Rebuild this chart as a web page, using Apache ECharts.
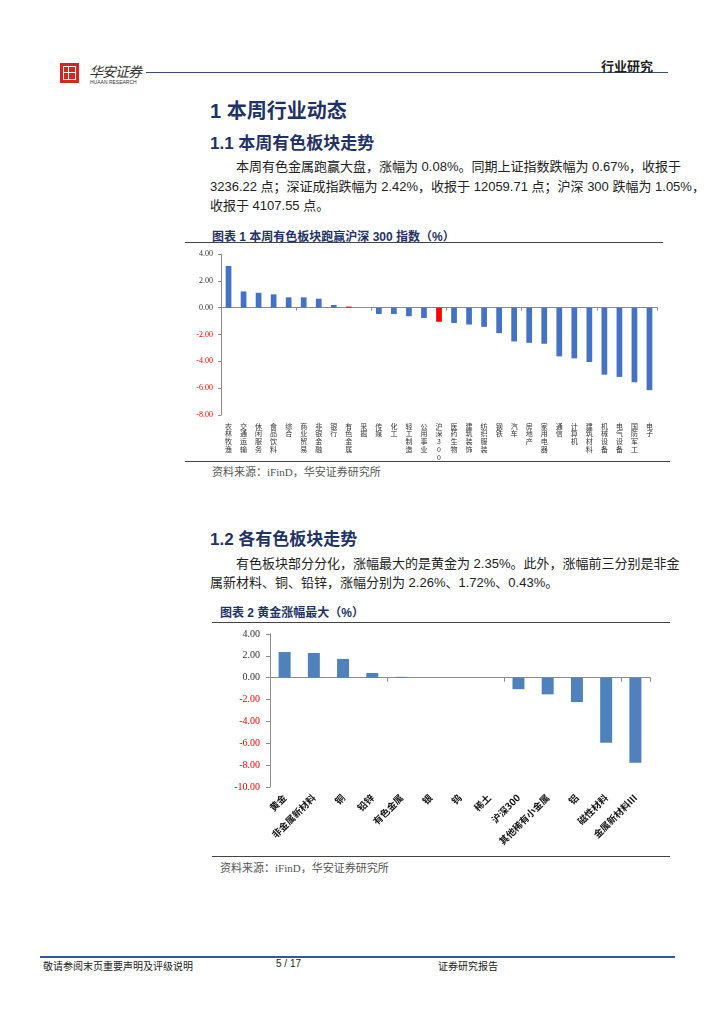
<!DOCTYPE html>
<html>
<head>
<meta charset="utf-8">
<script src="https://cdn.jsdelivr.net/npm/echarts@6/dist/echarts.min.js"></script>
<style>
  html, body { margin:0; padding:0; background:#fff; }
  body { width:724px; height:1024px; position:relative; overflow:hidden;
         font-family:"Liberation Sans","Noto Sans CJK SC",sans-serif; color:#222; }
  .abs { position:absolute; white-space:nowrap; }
  .h1 { font-size:20px; font-weight:bold; color:#1F3366; }
  .h2 { font-size:17px; font-weight:bold; color:#1F3366; }
  .p  { font-size:13px; color:#222; line-height:19px; }
  .full { text-align:justify; text-align-last:justify; }
  .ft { font-size:12px; font-weight:bold; color:#1F3366; }
  .src { font-size:11px; color:#555; font-family:"Liberation Serif","Noto Sans CJK SC",serif; }
  .line { position:absolute; height:0; }
  .foot { font-size:10px; color:#222; }
</style>
</head>
<body>
<!-- header -->
<div class="abs" style="left:60px;top:63px;width:19px;height:20px;background:#D7261E;"></div>
<div class="abs" style="left:63px;top:66px;width:11px;height:12px;border:1px solid #fff;"></div>
<div class="abs" style="left:68px;top:66px;width:1px;height:14px;background:#fff;"></div>
<div class="abs" style="left:63px;top:72px;width:13px;height:1px;background:#fff;"></div>
<div class="abs" style="left:89px;top:61px;font-size:14px;font-style:italic;color:#333;letter-spacing:-1px;">华安证券</div>
<div class="abs" style="left:90px;top:79px;font-size:5px;color:#333;">HUAAN RESEARCH</div>
<div class="line" style="left:146px;top:72px;width:522px;border-top:1px solid #3A4E75;"></div>
<div class="abs" style="left:601px;top:56px;font-size:13px;font-weight:bold;color:#222;">行业研究</div>

<!-- section 1 -->
<div class="abs h1" style="left:210px;top:95px;">1 本周行业动态</div>
<div class="abs h2" style="left:210px;top:129px;">1.1 本周有色板块走势</div>
<div class="abs p full" style="left:236px;top:157px;width:436px;">本周有色金属跑赢大盘，涨幅为 0.08%。同期上证指数跌幅为 0.67%，收报于</div>
<div class="abs p full" style="left:210px;top:177px;width:462px;">3236.22 点；深证成指跌幅为 2.42%，收报于 12059.71 点；沪深 300 跌幅为 1.05%，</div>
<div class="abs p" style="left:210px;top:196px;">收报于 4107.55 点。</div>
<div class="abs ft" style="left:212px;top:227px;">图表 1 本周有色板块跑赢沪深 300 指数（%）</div>
<div class="line" style="left:185px;top:242px;width:478px;border-top:1px solid #444;"></div>
<div id="c1" class="abs" style="left:183px;top:244px;width:490px;height:216px;"></div>
<div class="line" style="left:185px;top:461px;width:485px;border-top:1px solid #444;"></div>
<div class="abs src" style="left:212px;top:463px;">资料来源：iFinD，华安证券研究所</div>

<!-- section 2 -->
<div class="abs h2" style="left:210px;top:525px;">1.2 各有色板块走势</div>
<div class="abs p full" style="left:236px;top:554px;width:436px;">有色板块部分分化，涨幅最大的是黄金为 2.35%。此外，涨幅前三分别是非金</div>
<div class="abs p" style="left:210px;top:573px;">属新材料、铜、铅锌，涨幅分别为 2.26%、1.72%、0.43%。</div>
<div class="abs ft" style="left:220px;top:603px;">图表 2 黄金涨幅最大（%）</div>
<div class="line" style="left:212px;top:622px;width:458px;border-top:1px solid #444;"></div>
<div id="c2" class="abs" style="left:205px;top:624px;width:470px;height:230px;"></div>
<div class="line" style="left:212px;top:856px;width:458px;border-top:1px solid #444;"></div>
<div class="abs src" style="left:220px;top:859px;">资料来源：iFinD，华安证券研究所</div>

<!-- footer -->
<div class="line" style="left:40px;top:956px;width:635px;border-top:2px solid #2E5C9A;"></div>
<div class="abs foot" style="left:43px;top:958px;">敬请参阅末页重要声明及评级说明</div>
<div class="abs foot" style="left:276px;top:958px;font-family:'Liberation Sans';">5 / 17</div>
<div class="abs foot" style="left:438px;top:958px;">证券研究报告</div>

<script>
// ---- data ----
const cats1 = ['农林牧渔','交通运输','休闲服务','食品饮料','综合','商业贸易','非银金融','银行','有色金属','采掘','传媒','化工','轻工制造','公用事业','沪深300','医药生物','建筑装饰','纺织服装','钢铁','汽车','房地产','家用电器','通信','计算机','建筑材料','机械设备','电气设备','国防军工','电子'];
const vals1 = [3.11,1.21,1.11,0.99,0.77,0.77,0.67,0.20,0.08,0.00,-0.47,-0.47,-0.64,-0.77,-1.05,-1.14,-1.26,-1.43,-1.90,-2.52,-2.62,-2.69,-3.63,-3.78,-4.05,-4.99,-5.16,-5.56,-6.15];
const red1 = ['有色金属','沪深300'];

const cats2 = ['黄金','非金属新材料','铜','铅锌','有色金属','银','钨','稀土','沪深300','其他稀有小金属','铝','磁性材料','金属新材料Ⅲ'];
const vals2 = [2.35,2.26,1.72,0.43,0.08,0,0,0,-1.05,-1.52,-2.23,-5.95,-7.77];

const yTicks1 = {min:-8, max:4, interval:2};
const yTicks2 = {min:-10, max:4, interval:2};

const vertLabel = s => s.split('').join('\n');
const yLabel = (fs) => ({
  fontFamily:'Liberation Serif', fontSize:fs, margin:8,
  formatter: v => v.toFixed(2),
  color: v => (parseFloat(v) < 0 ? '#FF0000' : '#333')
});

// ---- chart 1 ----
const ch1 = echarts.init(document.getElementById('c1'), null, {renderer:'canvas'});
ch1.setOption({
  animation:false,
  grid:{left:38, right:16, top:10, bottom:45, containLabel:false, outerBoundsMode:'none'},
  xAxis:[
    {type:'category', data:cats1, position:'bottom',
     axisLine:{onZero:true, lineStyle:{color:'#8C8C8C'}},
     axisTick:{show:true, length:3, lineStyle:{color:'#8C8C8C'}},
     axisLabel:{show:false}},
    {type:'category', data:cats1, position:'bottom',
     axisLine:{show:false, onZero:false}, axisTick:{show:false},
     axisLabel:{interval:0, margin:7, align:'center', verticalAlign:'top',
       formatter: vertLabel, hideOverlap:false,
       fontFamily:'Noto Sans CJK SC', fontSize:7, lineHeight:7.8, color:'#333'}}
  ],
  yAxis:{type:'value', min:yTicks1.min, max:yTicks1.max, interval:yTicks1.interval,
    axisLine:{show:true, lineStyle:{color:'#8C8C8C'}},
    axisTick:{show:true, length:3, lineStyle:{color:'#8C8C8C'}},
    splitLine:{show:false},
    axisLabel:yLabel(8)},
  series:[{type:'bar', xAxisIndex:0, barWidth:'38%',
    data: vals1.map((v,i)=>({value:v, itemStyle:{color: red1.includes(cats1[i]) ? '#FF0000' : '#4472C4'}}))}]
});

// ---- chart 2 ----
const ch2 = echarts.init(document.getElementById('c2'), null, {renderer:'canvas'});
ch2.setOption({
  animation:false,
  grid:{left:65, right:25, top:10, bottom:67, containLabel:false, outerBoundsMode:'none'},
  xAxis:[
    {type:'category', data:cats2, position:'bottom',
     axisLine:{onZero:true, lineStyle:{color:'#8C8C8C'}},
     axisTick:{show:true, length:4, lineStyle:{color:'#8C8C8C'}},
     axisLabel:{show:false}},
    {type:'category', data:cats2, position:'bottom',
     axisLine:{show:false, onZero:false}, axisTick:{show:false},
     axisLabel:{interval:0, rotate:45, margin:9,
       fontFamily:'Noto Sans CJK SC', fontSize:9.5, fontWeight:'bold', color:'#111'}}
  ],
  yAxis:{type:'value', min:yTicks2.min, max:yTicks2.max, interval:yTicks2.interval,
    axisLine:{show:true, lineStyle:{color:'#8C8C8C'}},
    axisTick:{show:true, length:4, lineStyle:{color:'#8C8C8C'}},
    splitLine:{show:false},
    axisLabel:Object.assign(yLabel(10), {margin:10})},
  series:[{type:'bar', xAxisIndex:0, barWidth:'41%', itemStyle:{color:'#4F81BD'}, data: vals2}]
});
</script>
</body>
</html>
